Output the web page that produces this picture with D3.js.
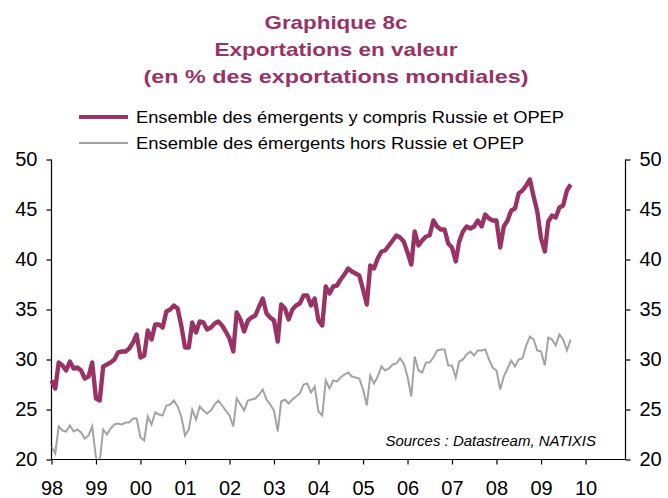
<!DOCTYPE html>
<html>
<head>
<meta charset="utf-8">
<script src="https://cdn.jsdelivr.net/npm/d3@7"></script>
<style>
  body { margin: 0; background: #fff; }
  svg { font-family: "Liberation Sans", Arial, sans-serif; }
</style>
</head>
<body>
<svg id="chart" width="668" height="498"></svg>
<script>
// monthly data, Jan 1998 -> Sep 2009
const startMonth = new Date(1998, 0, 1);

const withRussiaOpec = [
  27.9, 27.1, 29.7, 29.4, 28.9, 29.8, 29.1, 29.2, 28.9, 28.1, 28.3, 29.7,
  26.1, 25.9, 29.3, 29.5, 29.7, 30.0, 30.7, 30.8, 30.8, 31.1, 31.7, 32.5,
  30.2, 30.4, 32.9, 32.0, 33.5, 33.5, 33.2, 34.8, 35.0, 35.4, 35.1, 33.4,
  31.2, 31.2, 33.7, 32.7, 33.8, 33.7, 33.0, 33.2, 33.6, 33.8, 33.4, 32.8,
  32.1, 30.8, 34.7, 34.0, 32.8, 33.9, 34.2, 34.4, 35.3, 36.1, 34.6, 34.2,
  33.9, 31.8, 35.5, 35.1, 34.0, 35.0, 35.4, 35.6, 36.4, 36.4, 35.4, 36.1,
  33.9, 33.4, 37.3, 36.6, 37.3, 37.4, 38.0, 38.5, 39.1, 38.8, 38.6, 38.4,
  37.0, 35.5, 39.4, 39.1, 40.1, 40.8, 40.9, 41.4, 41.9, 42.4, 42.2, 41.8,
  40.7, 39.5, 42.8, 41.4, 41.9, 42.3, 42.4, 43.9, 43.3, 43.0, 43.0, 41.6,
  41.2, 39.8, 41.8, 42.8, 43.3, 43.1, 43.3, 43.9, 43.3, 44.5, 44.1, 43.9,
  43.9, 41.2, 43.3, 43.9, 44.9, 45.1, 46.6, 46.9, 47.4, 48.0, 46.3, 44.8,
  42.1, 40.8, 43.8, 44.4, 44.2, 45.2, 45.4, 46.9, 47.5
];

const withoutRussiaOpec = [
  21.3, 20.6, 23.3, 22.9, 22.8, 23.4, 22.8, 23.0, 22.7, 22.1, 22.4, 23.3,
  20.2, 19.8, 23.0, 22.5, 23.1, 23.5, 23.6, 23.5, 23.7, 23.7, 24.1, 24.1,
  22.2, 21.9, 24.3, 23.5, 24.7, 24.5, 24.4, 25.4, 25.5, 25.9, 25.3, 24.3,
  22.4, 23.0, 25.0, 24.0, 25.3, 24.9, 24.6, 24.9, 25.5, 25.9, 25.4, 24.9,
  24.4, 23.3, 26.1, 25.5, 24.9, 25.9, 26.0, 26.1, 26.5, 27.0, 26.0, 25.5,
  24.9, 22.8, 25.8, 26.0, 25.6, 26.0, 26.3, 26.6, 27.5, 27.6, 26.7, 27.3,
  24.8, 24.4, 27.9, 27.1, 27.9, 27.8, 28.2, 28.5, 28.7, 28.3, 28.2, 28.1,
  27.0, 25.4, 28.4, 27.6, 28.3, 29.3, 28.9, 29.1, 29.5, 29.6, 30.1, 29.6,
  28.3, 26.3, 30.3, 28.9, 28.7, 29.7, 29.7, 30.2, 30.9, 31.0, 31.0, 29.4,
  29.4, 28.2, 29.8, 30.0, 30.5, 30.8, 30.4, 30.9, 30.9, 31.0, 30.0, 29.2,
  28.9, 27.0, 28.3, 29.1, 29.9, 29.3, 30.0, 30.1, 31.4, 32.3, 32.0, 30.9,
  30.8, 29.4, 32.2, 32.0, 31.4, 32.5, 32.0, 30.9, 32.0
];

const yearLabels = ["98", "99", "00", "01", "02", "03", "04", "05", "06", "07", "08", "09", "10"];
const yTicks = [20, 25, 30, 35, 40, 45, 50];

const titleLines = ["Graphique 8c", "Exportations en valeur", "(en % des exportations mondiales)"];
const seriesNames = ["Ensemble des émergents y compris Russie et OPEP", "Ensemble des émergents hors Russie et OPEP"];

const purple = "#993366";
const grey = "#a3a3a3";

const svg = d3.select("#chart");
const plotL = 51.5, plotR = 625.5, plotT = 159.5, plotB = 459.5;

const x = d3.scaleTime()
  .domain([startMonth, new Date(2010, 10, 25)])
  .range([plotL, plotR]);
const y = d3.scaleLinear().domain([20, 50]).range([plotB, plotT]);

// title
const titleY = [29, 56, 83];
const titleW = [143, 243, 385];
svg.selectAll(".title").data(titleLines).enter().append("text")
  .attr("x", 336)
  .attr("y", (d, i) => titleY[i])
  .attr("text-anchor", "middle")
  .attr("font-size", 19)
  .attr("font-weight", "bold")
  .attr("fill", purple)
  .attr("textLength", (d, i) => titleW[i])
  .attr("lengthAdjust", "spacingAndGlyphs")
  .text(d => d);

// legend
const legendY = [117, 143];
const legendW = [428, 388];
const legend = svg.selectAll(".leg").data(seriesNames).enter().append("g");
legend.append("line")
  .attr("x1", 79).attr("x2", 128)
  .attr("y1", (d, i) => legendY[i]).attr("y2", (d, i) => legendY[i])
  .attr("stroke", (d, i) => i === 0 ? purple : grey)
  .attr("stroke-width", (d, i) => i === 0 ? 4 : 2);
legend.append("text")
  .attr("x", 136)
  .attr("y", (d, i) => legendY[i] + 6)
  .attr("font-size", 16)
  .attr("textLength", (d, i) => legendW[i])
  .attr("lengthAdjust", "spacingAndGlyphs")
  .text(d => d);

// axes
const yearTicks = yearLabels.map((d, i) => new Date(1998 + i, 0, 1));

svg.append("g")
  .attr("transform", `translate(0,${plotB})`)
  .call(d3.axisBottom(x).tickValues(yearTicks).tickSize(5).tickPadding(16)
    .tickFormat((d, i) => yearLabels[i]))
  .call(g => g.select(".domain").attr("d", `M${plotL},0H${plotR}`))
  .call(g => g.selectAll("text").attr("font-size", 20).attr("fill", "#000"));

svg.append("g")
  .attr("transform", `translate(${plotL},0)`)
  .call(d3.axisLeft(y).tickValues(yTicks).tickSize(5).tickPadding(9))
  .call(g => g.select(".domain").attr("d", `M0,${plotT}V${plotB}`))
  .call(g => g.selectAll("text").attr("font-size", 20).attr("fill", "#000"));

svg.append("g")
  .attr("transform", `translate(${plotR},0)`)
  .call(d3.axisRight(y).tickValues(yTicks).tickSize(5).tickPadding(9))
  .call(g => g.select(".domain").attr("d", `M0,${plotT}V${plotB}`))
  .call(g => g.selectAll("text").attr("font-size", 20).attr("fill", "#000"));

svg.selectAll(".domain, .tick line").attr("stroke", "#000").attr("stroke-width", 1.2);

// lines
svg.append("clipPath").attr("id", "plot")
  .append("rect").attr("x", plotL).attr("y", plotT - 5).attr("width", plotR - plotL).attr("height", plotB - plotT + 4);

const line = d3.line()
  .x((d, i) => x(d3.timeMonth.offset(startMonth, i)))
  .y(d => y(d));

svg.append("path")
  .datum(withoutRussiaOpec)
  .attr("clip-path", "url(#plot)")
  .attr("d", line)
  .attr("fill", "none")
  .attr("stroke", grey)
  .attr("stroke-width", 2);

svg.append("path")
  .datum(withRussiaOpec)
  .attr("d", line)
  .attr("fill", "none")
  .attr("stroke", purple)
  .attr("stroke-width", 4.4)
  .attr("stroke-linejoin", "round");

// source
svg.append("text")
  .attr("x", 596).attr("y", 446)
  .attr("text-anchor", "end")
  .attr("font-size", 15)
  .attr("font-style", "italic")
  .text("Sources : Datastream, NATIXIS");
</script>
</body>
</html>
